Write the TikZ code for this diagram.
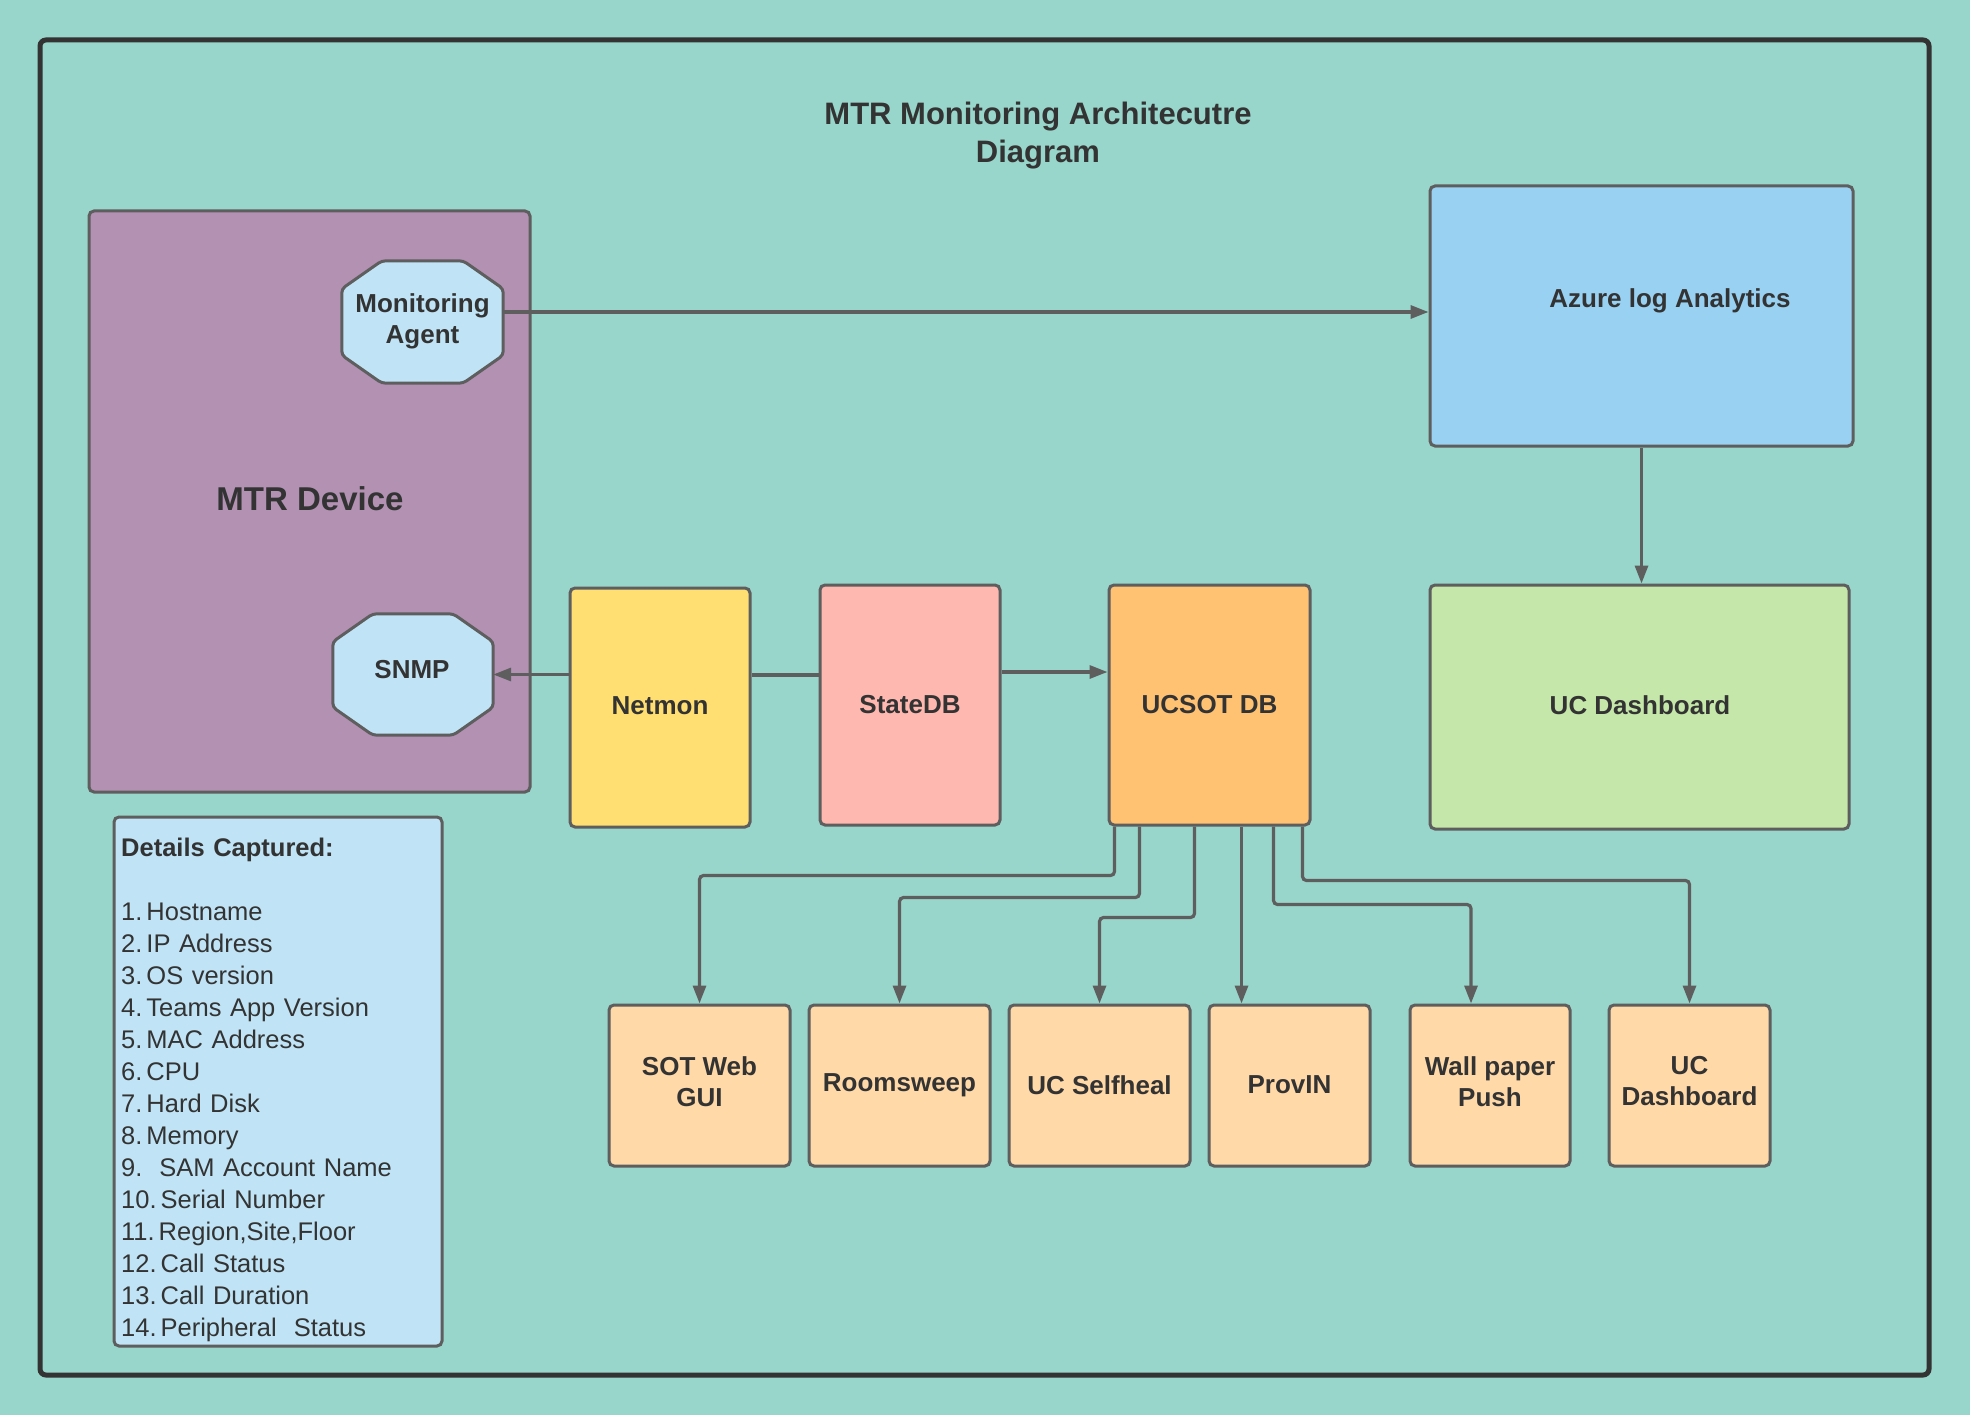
\documentclass[tikz,border=0pt]{standalone}
\usepackage{fontspec}
\setmainfont{Liberation Sans}
\usetikzlibrary{arrows.meta,calc}
\definecolor{bgc}{HTML}{98D5CA}
\definecolor{edgec}{HTML}{5E5E5E}
\definecolor{framec}{HTML}{333333}
\definecolor{txtc}{HTML}{333333}
\definecolor{mtrc}{HTML}{B291B3}
\definecolor{lightblue}{HTML}{C0E4F6}
\definecolor{azurec}{HTML}{99D1F2}
\definecolor{greenc}{HTML}{C5E7A9}
\definecolor{netmonc}{HTML}{FFDF71}
\definecolor{statec}{HTML}{FFB8B0}
\definecolor{ucsotc}{HTML}{FFC273}
\definecolor{appc}{HTML}{FFD9A8}
\frenchspacing
\begin{document}
\begin{tikzpicture}[x=1pt,y=-1pt,
  box/.style={draw=edgec, line width=3pt, rounded corners=5pt, text=txtc,
    font=\bfseries\fontsize{26}{31}\selectfont, align=center, inner sep=0pt},
  ghost/.style={draw=none, fill=none, inner sep=0pt},
  lbl/.style={text=txtc, font=\bfseries\fontsize{26}{31}\selectfont, align=center, inner sep=0pt},
  octline/.style={draw=edgec, line width=3pt, fill=lightblue, rounded corners=4pt},
  conn/.style={draw=edgec, line width=3.2pt, rounded corners=4pt},
  arr/.style={conn, -{Triangle[length=18pt,width=13pt]}},
  app/.style={box, fill=appc, minimum height=161pt}
]
\useasboundingbox (0,0) rectangle (1970,1415);
\fill[bgc] (0,0) rectangle (1970,1415);

% outer frame
\node[draw=framec, line width=5pt, rounded corners=6pt, minimum width=1889pt, minimum height=1335pt, inner sep=0pt] (frame) at (984.5,707.5) {};

% title
\node[lbl, font=\bfseries\fontsize{31}{38}\selectfont] (title) at (1038,136) {MTR Monitoring Architecutre\\Diagram};

% MTR device
\node[box, fill=mtrc, minimum width=441pt, minimum height=581pt] (mtr) at (309.5,501.5) {};
\node[lbl, font=\bfseries\fontsize{33}{40}\selectfont] (mtrtext) at (310,499) {MTR Device};

% Monitoring agent octagon
\node[ghost, minimum width=161pt, minimum height=122pt] (ma) at (422.5,322) {};
\draw[octline] ([xshift=40pt]ma.north west) -- ([xshift=-40pt]ma.north east) -- ([yshift=-28pt]ma.north east) -- ([yshift=28pt]ma.south east) -- ([xshift=-40pt]ma.south east) -- ([xshift=40pt]ma.south west) -- ([yshift=28pt]ma.south west) -- ([yshift=-28pt]ma.north west) -- cycle;
\node[lbl] (matext) at (422.5,321) {Monitoring\\Agent};

% SNMP octagon
\node[ghost, minimum width=160pt, minimum height=121pt] (snmp) at (413,674.5) {};
\draw[octline] ([xshift=40pt]snmp.north west) -- ([xshift=-40pt]snmp.north east) -- ([yshift=-28pt]snmp.north east) -- ([yshift=28pt]snmp.south east) -- ([xshift=-40pt]snmp.south east) -- ([xshift=40pt]snmp.south west) -- ([yshift=28pt]snmp.south west) -- ([yshift=-28pt]snmp.north west) -- cycle;
\node[lbl] (snmptext) at (412,670) {SNMP};

% Azure
\node[box, fill=azurec, minimum width=423pt, minimum height=260pt] (azure) at (1641.5,316) {};
\node[lbl] (azuretext) at (1670,301) {Azure log Analytics};

% UC Dashboard big
\node[box, fill=greenc, minimum width=419pt, minimum height=244pt] (ucdash) at (1639.5,707) {};
\node[lbl] (ucdashtext) at (1640,705) {UC Dashboard};

% middle row
\node[box, fill=netmonc, minimum width=180pt, minimum height=239pt] (netmon) at (660,707.5) {};
\node[lbl] (netmontext) at (660,706) {Netmon};
\node[box, fill=statec, minimum width=180pt, minimum height=240pt] (statedb) at (910,705) {StateDB};
\node[box, fill=ucsotc, minimum width=201pt, minimum height=240pt] (ucsot) at (1209.5,705) {UCSOT DB};

% bottom row
\node[app, minimum width=181pt] (sot) at (699.5,1085.5) {};
\node[app, minimum width=181pt] (room) at (899.5,1085.5) {};
\node[app, minimum width=181pt] (selfheal) at (1099.5,1085.5) {};
\node[app, minimum width=161pt] (provin) at (1289.5,1085.5) {};
\node[app, minimum width=160pt] (wall) at (1490,1085.5) {};
\node[app, minimum width=161pt] (ucd2) at (1689.5,1085.5) {};
\node[lbl] (sottext) at (699.5,1081.5) {SOT Web\\GUI};
\node[lbl] (roomtext) at (899.5,1085) {Roomsweep};
\node[lbl] (selfhealtext) at (1099.5,1085) {UC Selfheal};
\node[lbl] (provintext) at (1289.5,1085) {ProvIN};
\node[lbl] (walltext) at (1490,1081.5) {Wall paper\\Push};
\node[lbl] (ucd2text) at (1689.5,1081.5) {UC\\Dashboard};

% details box
\node[box, fill=lightblue, minimum width=328pt, minimum height=529pt] (details) at (278,1081.5) {};
\node[lbl, anchor=north west, text width=314pt, align=left, font=\fontsize{25.5}{32}\selectfont]
  (detailstext) at (121,838)
  {\textbf{Details Captured:}\\[32pt]
   1.\hspace{4pt}Hostname\\
   2.\hspace{4pt}IP Address\\
   3.\hspace{4pt}OS version\\
   4.\hspace{4pt}Teams App Version\\
   5.\hspace{4pt}MAC Address\\
   6.\hspace{4pt}CPU\\
   7.\hspace{4pt}Hard Disk\\
   8.\hspace{4pt}Memory\\
   9.\ \ SAM Account Name\\
   10.\hspace{4pt}Serial Number\\
   11.\hspace{4pt}Region,Site,Floor\\
   12.\hspace{4pt}Call Status\\
   13.\hspace{4pt}Call Duration\\
   14.\hspace{4pt}Peripheral\ \ Status};

% connectors
\draw[arr] ([yshift=10pt]ma.east) -- ([yshift=10pt]ma.east -| azure.west);
\draw[arr] (azure.south) -- (azure.south |- ucdash.north);
\draw[arr] (netmon.west |- snmp.east) -- (snmp.east);
\draw[conn] ([yshift=32.5pt]netmon.east) -- ([yshift=32.5pt]netmon.east -| statedb.west);
\draw[arr] ([yshift=33pt]statedb.east) -- ([yshift=33pt]statedb.east -| ucsot.west);

\draw[arr] ([xshift=7pt]ucsot.south west) -- ++(0,49) -| (sot.north);
\draw[arr] ([xshift=32pt]ucsot.south west) -- ++(0,71) -| (room.north);
\draw[arr] ([xshift=87pt]ucsot.south west) -- ++(0,91) -| (selfheal.north);
\draw[arr] ([xshift=134pt]ucsot.south west) -- ([xshift=134pt]ucsot.south west |- provin.north);
\draw[arr] ([xshift=166pt]ucsot.south west) -- ++(0,78) -| ([xshift=-19pt]wall.north);
\draw[arr] ([xshift=195pt]ucsot.south west) -- ++(0,54) -| (ucd2.north);
\end{tikzpicture}
\end{document}
